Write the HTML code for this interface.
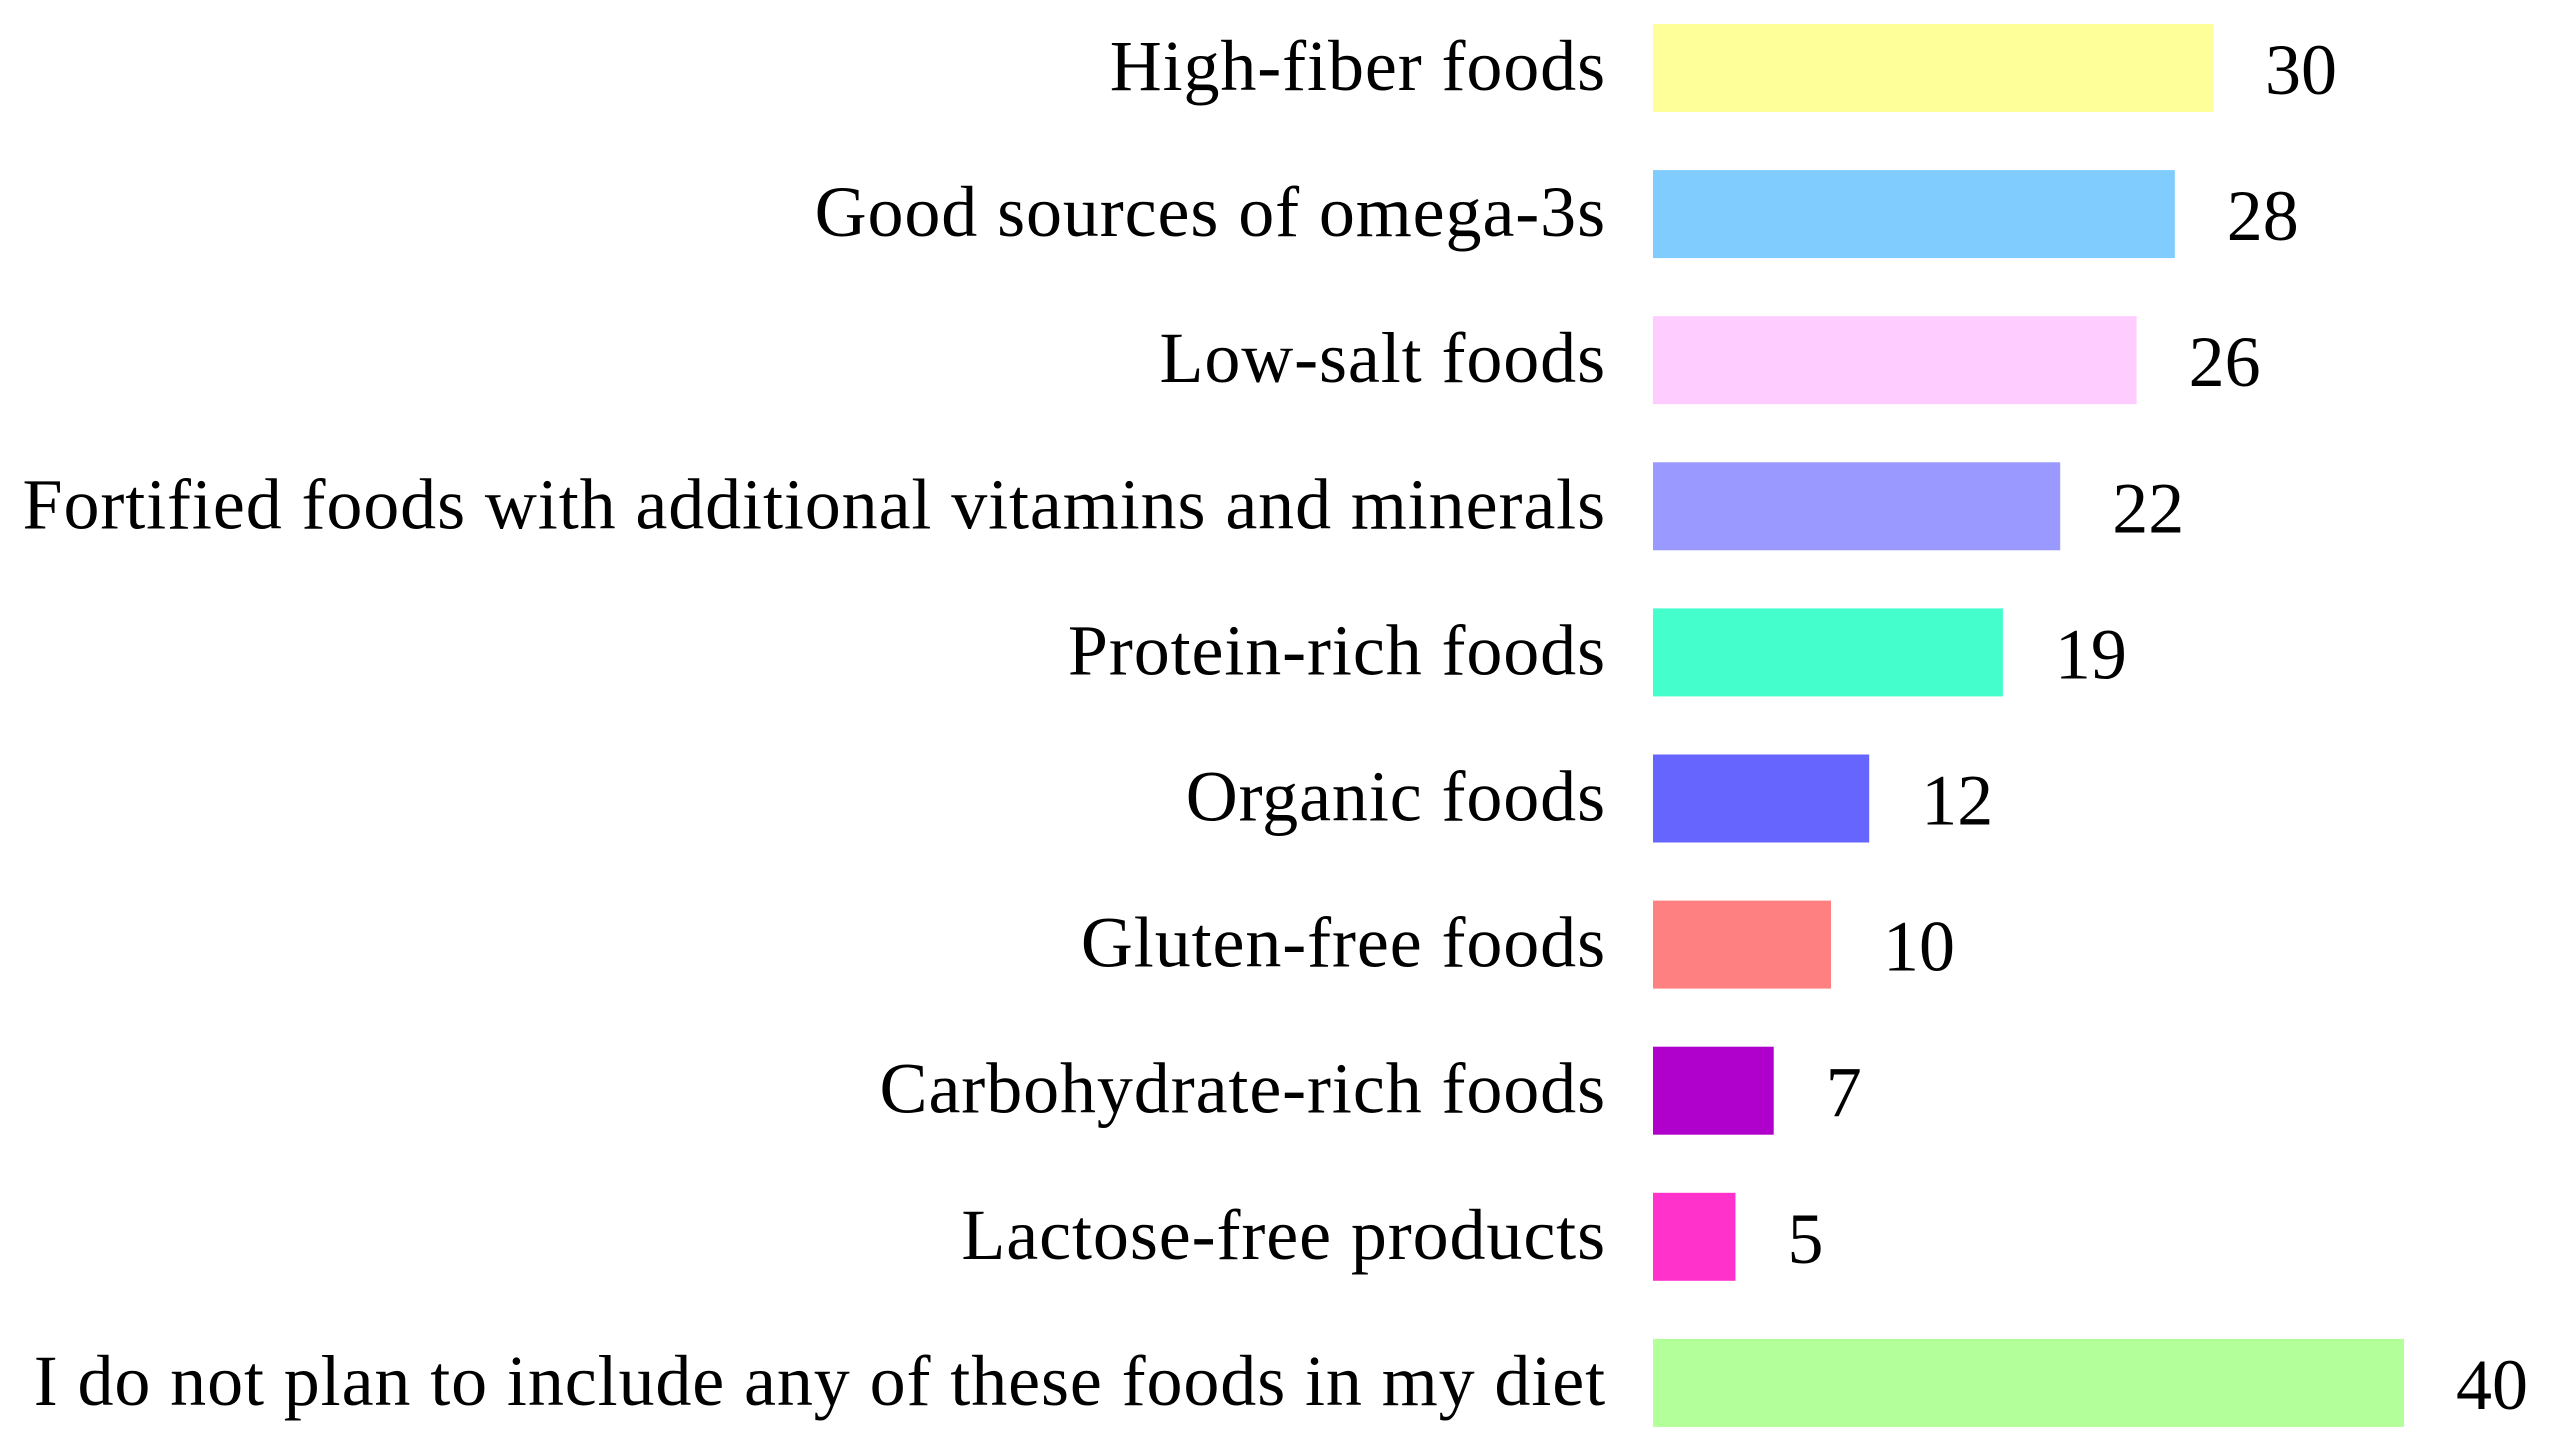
<!DOCTYPE html>
<html><head><meta charset="utf-8"><style>
html,body{margin:0;padding:0;background:#fff;}
svg text{font-family:"Liberation Serif",serif;fill:#000;}
</style></head><body>
<svg id="chart" width="2550" height="1451" viewBox="0 0 2550 1451" xmlns="http://www.w3.org/2000/svg"></svg>
<script>
const categories = ["High-fiber foods","Good sources of omega-3s","Low-salt foods","Fortified foods with additional vitamins and minerals","Protein-rich foods","Organic foods","Gluten-free foods","Carbohydrate-rich foods","Lactose-free products","I do not plan to include any of these foods in my diet"];
const values = [30,28,26,22,19,12,10,7,5,40];
const colors = ["#FFFF99","#80CCFF","#FFCCFF","#9999FF","#44FFCC","#6666FF","#FF8080","#B000CC","#FF33CC","#B3FF99"];
const names = ["high-fiber","omega-3s","low-salt","fortified","protein-rich","organic","gluten-free","carbohydrate-rich","lactose-free","none"];

const svg = document.getElementById('chart');
const NS = 'http://www.w3.org/2000/svg';
const barX0 = 1653;
function xScale(v){ return 1640 + v * 19.1; }
function yCenter(i){ return 68 + i * 146.1; }
const barH = 88;

categories.forEach((c, i) => {
  const cy = yCenter(i);
  const r = document.createElementNS(NS, 'rect');
  r.setAttribute('x', barX0);
  r.setAttribute('y', cy - barH / 2);
  r.setAttribute('width', Math.max(0, xScale(values[i]) - barX0));
  r.setAttribute('height', barH);
  r.setAttribute('fill', colors[i]);
  
  
  svg.appendChild(r);

  const t = document.createElementNS(NS, 'text');
  t.setAttribute('x', 1606);
  t.setAttribute('y', cy + 22);
  t.setAttribute('text-anchor', 'end');
  t.setAttribute('font-size', '72');
  t.setAttribute('letter-spacing', '0.9');
  t.textContent = c;
  
  
  svg.appendChild(t);

  const v = document.createElementNS(NS, 'text');
  v.setAttribute('x', xScale(values[i]) + 52);
  v.setAttribute('y', cy + 26);
  v.setAttribute('font-size', '72');
  v.textContent = values[i];
  
  
  svg.appendChild(v);
});
</script>
</body></html>
